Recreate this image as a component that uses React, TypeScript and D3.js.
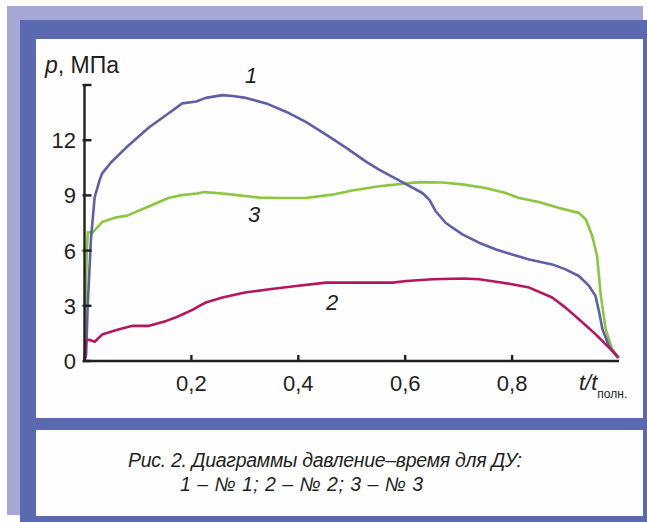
import React from "react";
import * as d3 from "d3";

// Relative time t/t_full and pressure p (MPa) for three engines
const curve1: [number, number][] = [
  [0, 0], [0.003, 0.3], [0.006, 3.0], [0.012, 6.6], [0.019, 8.9], [0.028, 9.8],
  [0.033, 10.2], [0.05, 10.8], [0.078, 11.6], [0.121, 12.7], [0.164, 13.6],
  [0.183, 14.0], [0.209, 14.1], [0.227, 14.3], [0.258, 14.45], [0.277, 14.4],
  [0.302, 14.3], [0.34, 14.0], [0.377, 13.55], [0.414, 13.0], [0.452, 12.3],
  [0.489, 11.6], [0.526, 10.85], [0.551, 10.4], [0.598, 9.67], [0.632, 9.13],
  [0.645, 8.77], [0.657, 8.14], [0.676, 7.5], [0.707, 6.88], [0.738, 6.43],
  [0.77, 6.06], [0.8, 5.79], [0.832, 5.52], [0.875, 5.25], [0.9, 4.98],
  [0.925, 4.62], [0.944, 4.08], [0.956, 3.54], [0.963, 2.64], [0.969, 1.73],
  [0.981, 0.83], [0.997, 0.2],
];

const curve2: [number, number][] = [
  [0, 0], [0.003, 1.1], [0.009, 1.15], [0.019, 1.05], [0.034, 1.46], [0.065, 1.73],
  [0.09, 1.91], [0.121, 1.91], [0.153, 2.18], [0.17, 2.36], [0.184, 2.54],
  [0.202, 2.78], [0.215, 3.0], [0.227, 3.18], [0.258, 3.45], [0.3, 3.72],
  [0.346, 3.9], [0.396, 4.08], [0.452, 4.26], [0.577, 4.26], [0.602, 4.35],
  [0.651, 4.44], [0.707, 4.48], [0.738, 4.44], [0.77, 4.31], [0.8, 4.17],
  [0.832, 3.99], [0.875, 3.45], [0.9, 2.9], [0.925, 2.27], [0.956, 1.46],
  [0.987, 0.56], [0.997, 0.25],
];

const curve3: [number, number][] = [
  [0, 0], [0.002, 3.0], [0.004, 5.6], [0.006, 7.0], [0.015, 6.98], [0.033, 7.55],
  [0.058, 7.8], [0.08, 7.9], [0.12, 8.4], [0.157, 8.86], [0.178, 9.0],
  [0.21, 9.1], [0.225, 9.18], [0.258, 9.1], [0.29, 9.0], [0.327, 8.88],
  [0.364, 8.86], [0.414, 8.86], [0.463, 9.04], [0.501, 9.27], [0.551, 9.5],
  [0.598, 9.64], [0.626, 9.72], [0.67, 9.7], [0.707, 9.6], [0.75, 9.4],
  [0.788, 9.13], [0.813, 8.86], [0.85, 8.64], [0.888, 8.32], [0.925, 8.05],
  [0.938, 7.69], [0.95, 6.78], [0.959, 5.7], [0.966, 3.54], [0.975, 1.73],
  [0.987, 0.65], [0.999, 0.2],
];

const xTicks = [0.2, 0.4, 0.6, 0.8];
const xTickLabels = ["0,2", "0,4", "0,6", "0,8"];
const yTicks = [0, 3, 6, 9, 12, 15];
const yTickLabels = ["0", "3", "6", "9", "12", ""];

const captionLines = [
  "Рис. 2. Диаграммы давление–время для ДУ:",
  "1 – № 1; 2 – № 2; 3 – № 3",
];

const INK = "#231f20";
const FONT = "'Liberation Sans', Arial, sans-serif";

export default function App() {
  const x = d3.scaleLinear().domain([0, 1]).range([84.5, 619]);
  const y = d3.scaleLinear().domain([0, 15]).range([361, 85]);
  const line = d3
    .line<[number, number]>()
    .x((d) => x(d[0]))
    .y((d) => y(d[1]));

  const series = [
    { data: curve3, color: "#8cc63f" },
    { data: curve1, color: "#5d5fa8" },
    { data: curve2, color: "#b5165e" },
  ];

  return (
    <svg
      width={647}
      height={522}
      style={{ position: "absolute", left: 0, top: 0, background: "#fff" }}
      fontFamily={FONT}
    >
      {/* framing panels */}
      <rect x={7} y={6} width={636} height={509} fill="#a5a8d4" />
      <rect x={20} y={20} width={627} height={502} fill="#5b6ab0" />
      <rect x={36} y={39} width={607} height={379} fill="#fefefe" />
      <rect x={36} y={430} width={607} height={86} fill="#fefefe" />

      {/* curves */}
      {series.map((s, i) => (
        <path
          key={i}
          d={line(s.data) || ""}
          fill="none"
          stroke={s.color}
          strokeWidth={2.6}
          strokeLinejoin="round"
          strokeLinecap="round"
        />
      ))}

      {/* y axis */}
      <line x1={x(0)} x2={x(0)} y1={y(15)} y2={y(0)} stroke={INK} strokeWidth={2.4} />
      {yTicks.map((t, i) => (
        <g key={"y" + t}>
          <line x1={x(0) - 2} x2={x(0) + 7} y1={y(t)} y2={y(t)} stroke={INK} strokeWidth={2.4} />
          {yTickLabels[i] && (
            <text
              x={76}
              y={y(t)}
              dy="0.36em"
              textAnchor="end"
              fontSize={22}
              fill={INK}
            >
              {yTickLabels[i]}
            </text>
          )}
        </g>
      ))}

      {/* x axis */}
      <line x1={x(0) - 1} x2={x(1)} y1={y(0)} y2={y(0)} stroke={INK} strokeWidth={2.4} />
      {xTicks.map((t, i) => (
        <g key={"x" + t}>
          <line x1={x(t)} x2={x(t)} y1={y(0)} y2={y(0) - 6} stroke={INK} strokeWidth={2.4} />
          <text x={x(t)} y={391} textAnchor="middle" fontSize={22} fill={INK}>
            {xTickLabels[i]}
          </text>
        </g>
      ))}

      {/* axis titles */}
      <text x={45} y={73} fontSize={23} fill={INK}>
        <tspan fontStyle="italic">p</tspan>, МПа
      </text>
      <text x={579} y={390} fontSize={22} fill={INK} fontStyle="italic">
        t/t
        <tspan fontSize={12} fontStyle="normal" dy={8}>
          полн.
        </tspan>
      </text>

      {/* curve numbers */}
      <text x={245} y={83} fontSize={22} fontStyle="italic" fill={INK}>1</text>
      <text x={326} y={310} fontSize={22} fontStyle="italic" fill={INK}>2</text>
      <text x={248} y={222} fontSize={22} fontStyle="italic" fill={INK}>3</text>

      {/* caption */}
      <text
        x={128}
        y={467}
        fontSize={19.5}
        fontStyle="italic"
        fill={INK}
        textLength={394}
        lengthAdjust="spacing"
      >
        {captionLines[0]}
      </text>
      <text
        x={180}
        y={491}
        fontSize={19.5}
        fontStyle="italic"
        fill={INK}
        textLength={243}
        lengthAdjust="spacing"
      >
        {captionLines[1]}
      </text>
    </svg>
  );
}
